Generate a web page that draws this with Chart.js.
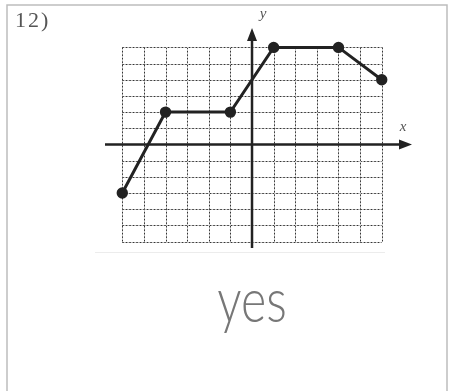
<!DOCTYPE html>
<html>
<head>
    <title>12)</title>
    <script src="https://cdn.jsdelivr.net/npm/chart.js"></script>
    <style>
        body { margin: 0; background: #fff; }
        canvas { display: block; }
    </style>
</head>
<body>
    <canvas id="graph" width="451" height="391"></canvas>

    <script>
        // piecewise function, vertices of the graph
        const xValues = [-6, -4, -1, 1, 4, 6];
        const yValues = [-3, 2, 2, 6, 6, 4];
        // grid runs one line per unit
        const gridTicks = [-6, -5, -4, -3, -2, -1, 0, 1, 2, 3, 4, 5, 6];

        const ink = '#222';

        // worksheet frame, grid, axes with arrows, labels and the answer
        const sheet = {
            id: 'sheet',
            beforeDatasetsDraw(chart) {
                const c = chart.ctx;
                const xs = chart.scales.x, ys = chart.scales.y;
                const gx = v => xs.getPixelForValue(v);
                const gy = v => ys.getPixelForValue(v);
                const lo = gridTicks[0], hi = gridTicks[gridTicks.length - 1];

                c.save();
                // frame
                c.strokeStyle = '#bdbdbd';
                c.lineWidth = 1.5;
                c.beginPath();
                c.moveTo(7, 400); c.lineTo(7, 5); c.lineTo(447, 5); c.lineTo(447, 400);
                c.stroke();
                c.strokeStyle = '#ececec';
                c.lineWidth = 1;
                c.beginPath();
                c.moveTo(95, 252.5); c.lineTo(385, 252.5);
                c.stroke();

                // grid: light line with dark dots over it
                gridTicks.forEach(t => {
                    [['#c8c8c8', []], ['#333', [1.5, 2]]].forEach(([col, dash]) => {
                        c.strokeStyle = col;
                        c.setLineDash(dash);
                        c.lineWidth = 1;
                        c.beginPath();
                        c.moveTo(Math.round(gx(t)) + 0.5, gy(hi));
                        c.lineTo(Math.round(gx(t)) + 0.5, gy(lo));
                        c.moveTo(gx(lo), Math.round(gy(t)) + 0.5);
                        c.lineTo(gx(hi), Math.round(gy(t)) + 0.5);
                        c.stroke();
                    });
                });
                c.setLineDash([]);

                // axes
                const x0 = gx(0), y0 = gy(0);
                c.strokeStyle = ink;
                c.fillStyle = ink;
                c.lineWidth = 2.5;
                c.beginPath();
                c.moveTo(xs.left, y0); c.lineTo(xs.right - 8, y0);
                c.moveTo(x0, ys.bottom); c.lineTo(x0, ys.top + 8);
                c.stroke();
                c.beginPath();
                c.moveTo(xs.right, y0); c.lineTo(xs.right - 13, y0 - 5); c.lineTo(xs.right - 13, y0 + 5);
                c.closePath();
                c.moveTo(x0, ys.top); c.lineTo(x0 - 5, ys.top + 13); c.lineTo(x0 + 5, ys.top + 13);
                c.closePath();
                c.fill();

                // text
                c.fillStyle = '#555';
                c.font = 'italic 15px "Liberation Serif", serif';
                c.textAlign = 'center';
                c.textBaseline = 'middle';
                c.fillText('y', x0 + 11, 14);
                c.fillText('x', xs.right - 9, y0 - 17);
                c.font = '22px "Liberation Serif", serif';
                c.textAlign = 'left';
                c.textBaseline = 'alphabetic';
                c.fillStyle = '#555';
                c.letterSpacing = '2px';
                c.fillText('12)', 15, 27);
                c.letterSpacing = '0px';

                // handwritten answer
                c.fillStyle = '#777';
                c.font = '300 62px Lato, "Open Sans", sans-serif';
                c.textAlign = 'center';
                c.translate(252, 322);
                c.scale(0.78, 1);
                c.fillText('yes', 0, 0);
                c.restore();
            }
        };

        new Chart(document.getElementById('graph'), {
            type: 'scatter',
            data: {
                datasets: [{
                    data: xValues.map((x, i) => ({ x: x, y: yValues[i] })),
                    showLine: true,
                    borderColor: ink,
                    borderWidth: 3,
                    pointBackgroundColor: ink,
                    pointBorderColor: ink,
                    pointRadius: 4.2
                }]
            },
            options: {
                responsive: false,
                animation: false,
                layout: { padding: { left: 105, right: 39, top: 28, bottom: 143 } },
                plugins: { legend: { display: false }, tooltip: { enabled: false } },
                scales: {
                    x: { type: 'linear', min: -6.8, max: 7.4, display: false },
                    y: { type: 'linear', min: -6.4, max: 7.2, display: false }
                }
            },
            plugins: [sheet]
        });
    </script>
</body>
</html>
